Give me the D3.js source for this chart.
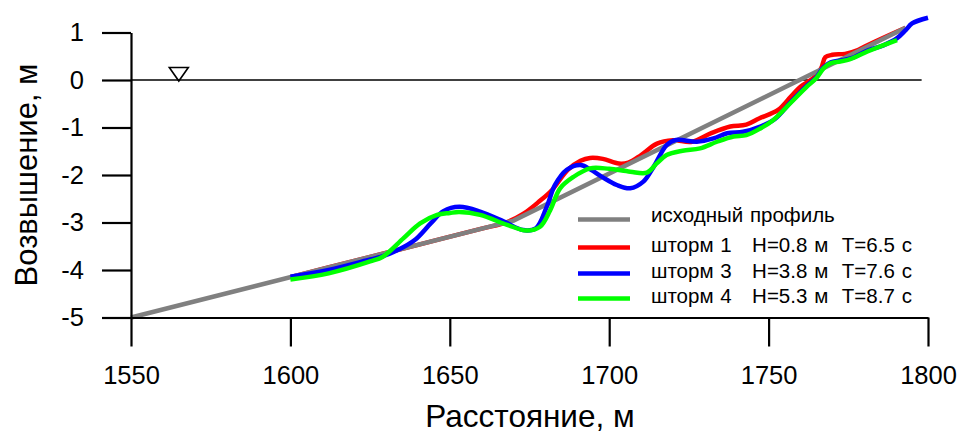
<!DOCTYPE html>
<html><head><meta charset="utf-8">
<script src="https://cdn.jsdelivr.net/npm/d3@7"></script>
<style>
body{margin:0;background:#fff;}
svg{font-family:"Liberation Sans",Arial,sans-serif;}
text{white-space:pre;}
</style></head>
<body><svg id="c" width="960" height="436"></svg>
<script>
// ---- data ----
const xTicks = [1550, 1600, 1650, 1700, 1750, 1800];
const yTicks = [1, 0, -1, -2, -3, -4, -5];
const xTitle = "Расстояние, м";
const yTitle = "Возвышение, м";

const profileX = [1550, 1670, 1793];
const profileY = [-5, -2.96, 1.10];

const storm1X = [1600,1620,1640,1660,1668,1673,1678,1682,1687,1691,1694,1698,1703,1706,1710,1715,1720,1726,1732,1738,1743,1747,1753,1757,1760,1764,1766.5,1767.8,1770,1774,1778,1780,1786,1793];
const storm1Y = [-4.15,-3.81,-3.47,-3.13,-2.99,-2.82,-2.56,-2.32,-1.89,-1.70,-1.64,-1.66,-1.76,-1.74,-1.58,-1.34,-1.27,-1.30,-1.12,-0.98,-0.94,-0.81,-0.63,-0.35,-0.14,0.04,0.25,0.48,0.53,0.55,0.63,0.70,0.89,1.10];

const storm3X = [1600,1612,1625,1629,1634,1639,1644,1648,1653,1659.5,1667,1673,1677,1680.4,1683,1686.7,1691,1694,1698,1702.4,1706.6,1710.7,1714,1718,1721,1727.5,1732.7,1737,1742,1747.4,1752,1757,1762,1765,1767.3,1769.5,1772.5,1776,1781,1786,1790.3,1793,1795,1800];
const storm3Y = [-4.14,-4.00,-3.78,-3.71,-3.57,-3.37,-3.02,-2.76,-2.67,-2.77,-2.98,-3.16,-3.12,-2.67,-2.21,-1.89,-1.79,-1.88,-2.05,-2.21,-2.28,-2.14,-1.82,-1.37,-1.26,-1.30,-1.23,-1.12,-1.09,-0.98,-0.82,-0.46,-0.12,0.06,0.27,0.37,0.41,0.46,0.62,0.73,0.88,1.05,1.19,1.31];

const storm4X = [1600,1612,1625,1629,1635.5,1640.7,1646,1650,1653,1659.5,1668,1674,1678.3,1681.5,1684.6,1688.8,1694,1700,1706.6,1711.8,1715,1718,1723,1728.5,1733.8,1739,1743,1747.4,1751.5,1756.8,1762,1765,1767.3,1769.3,1772.5,1775.6,1781,1789,1790.3];
const storm4Y = [-4.20,-4.07,-3.82,-3.72,-3.33,-3.02,-2.84,-2.80,-2.78,-2.84,-3.05,-3.17,-3.09,-2.74,-2.28,-2.04,-1.86,-1.87,-1.93,-1.95,-1.75,-1.58,-1.49,-1.44,-1.30,-1.19,-1.16,-1.02,-0.84,-0.49,-0.14,0.04,0.25,0.35,0.39,0.44,0.60,0.81,0.84];

const seriesNames = ["исходный профиль", "шторм 1   H=0.8 м  T=6.5 с", "шторм 3   H=3.8 м  T=7.6 с", "шторм 4   H=5.3 м  T=8.7 с"];
const seriesColors = ["#808080", "#ff0000", "#0000ff", "#00ff00"];

const seaLevelX = [1550, 1798];
const markerX = 1565;

// ---- chart ----
const svg = d3.select("#c");
const x = d3.scaleLinear().domain([1550, 1800]).range([131, 928]);
const y = d3.scaleLinear().domain([-5, 1]).range([317.5, 32.5]);

const zip = (a, b) => a.map((v, i) => [v, b[i]]);
const lineLin = d3.line().x(d => x(d[0])).y(d => y(d[1]));
const lineSm = d3.line().x(d => x(d[0])).y(d => y(d[1])).curve(d3.curveCatmullRom.alpha(0.5));

// sea level
svg.append("line").attr("x1", x(seaLevelX[0])).attr("x2", x(seaLevelX[1]))
  .attr("y1", y(0)).attr("y2", y(0)).attr("stroke", "#000").attr("stroke-width", 1.3);

// marker triangle
const mx = x(markerX), my = y(0);
svg.append("path").attr("d", `M${mx-9.5},${my-12.5}L${mx+9.5},${my-12.5}L${mx},${my+1}Z`)
  .attr("fill", "none").attr("stroke", "#000").attr("stroke-width", 1.6);

// lines
svg.append("path").attr("d", lineSm(zip(storm1X, storm1Y))).attr("fill", "none").attr("stroke", seriesColors[1]).attr("stroke-width", 4.5);
svg.append("path").attr("d", lineLin(zip(profileX, profileY))).attr("fill", "none").attr("stroke", seriesColors[0]).attr("stroke-width", 4.5);
svg.append("path").attr("d", lineSm(zip(storm3X, storm3Y))).attr("fill", "none").attr("stroke", seriesColors[2]).attr("stroke-width", 4.5);
svg.append("path").attr("d", lineSm(zip(storm4X, storm4Y))).attr("fill", "none").attr("stroke", seriesColors[3]).attr("stroke-width", 4.5);

// axes
const xa = svg.append("g").attr("transform", `translate(0,${y(-5)})`)
  .call(d3.axisBottom(x).tickValues(xTicks).tickSize(29).tickSizeOuter(0).tickPadding(19).tickFormat(d => String(d)));
const ya = svg.append("g").attr("transform", `translate(${x(1550)},0)`)
  .call(d3.axisLeft(y).tickValues(yTicks).tickSize(29).tickSizeOuter(0).tickPadding(18).tickFormat(d => String(d)));
[xa, ya].forEach(g => {
  g.selectAll("path,line").attr("stroke", "#000").attr("stroke-width", 2.2);
  g.selectAll("text").attr("font-size", 25.5).attr("fill", "#000").attr("font-family", '"Liberation Sans",Arial,sans-serif');
});

// titles
svg.append("text").attr("x", 530).attr("y", 427).attr("text-anchor", "middle")
  .attr("font-size", 31.5).text(xTitle);
svg.append("text").attr("transform", `translate(37,${(y(1)+y(-5))/2}) rotate(-90)`).attr("text-anchor", "middle")
  .attr("font-size", 31).text(yTitle);

// legend
const legY = [219.5, 247.5, 273.5, 298.5];
const legG = svg.append("g");
seriesNames.forEach((n, i) => {
  legG.append("line").attr("x1", 578).attr("x2", 630).attr("y1", legY[i]).attr("y2", legY[i])
    .attr("stroke", seriesColors[i]).attr("stroke-width", 4.5);
  legG.append("text").attr("x", 651).attr("y", legY[i] + 4 - (i === 0 ? 2 : 0)).attr("font-size", 20.5)
    .attr("word-spacing", 1.1).attr("fill", "#000").text(n);
});
</script></body></html>
